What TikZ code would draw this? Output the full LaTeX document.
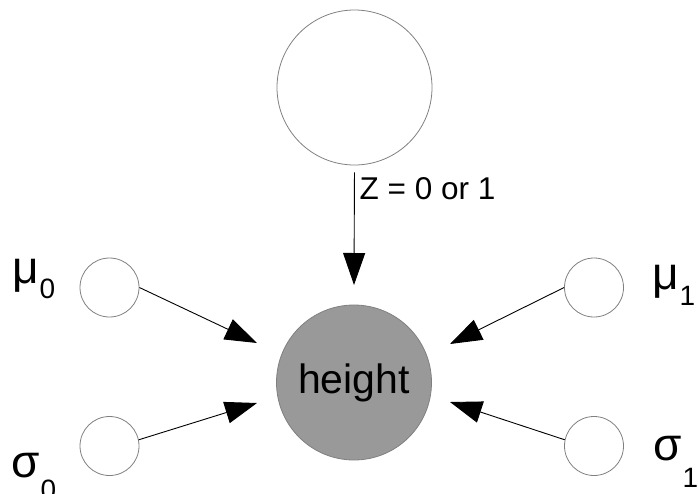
\documentclass[tikz,border=0pt]{standalone}
\usepackage{fontspec}
\setmainfont{Liberation Sans}
\usetikzlibrary{arrows.meta,calc}
\definecolor{rim}{RGB}{128,128,128}
\definecolor{obs}{RGB}{153,153,153}
\begin{document}
\begin{tikzpicture}[x=1pt,y=-1pt,
  latent/.style={circle, draw=rim, line width=0.8pt, fill=white, inner sep=0pt, minimum size=#1},
  param/.style={latent=59pt},
  edge/.style={draw=black, line width=0.9pt, -{Triangle[length=32pt,width=22pt]}},
  sym/.style={anchor=base west, inner sep=0pt, font=\fontsize{46}{46}\selectfont},
]
\useasboundingbox (0,0) rectangle (698,493);

% nodes of the model
\node[latent=155pt] (z) at (354.5,87.5) {};
\node[latent=155pt, fill=obs, font=\fontsize{41}{41}\selectfont] (h) at (354,382.5) {height};
\node[param] (m0) at (109.5,287.5) {};
\node[param] (s0) at (109.5,446) {};
\node[param] (m1) at (594,287.5) {};
\node[param] (s1) at (594,446) {};

% parameter names
\newcommand{\subtext}[2]{\kern1pt\raisebox{#1}{\fontsize{28}{28}\selectfont #2}}
\node[sym] (lm0) at (12,283) {μ\subtext{-15pt}{0}};
\node[sym] (ls0) at (11,477) {σ\subtext{-22pt}{0}};
\node[sym] (lm1) at (652,289) {μ\subtext{-16pt}{1}};
\node[sym] (ls1) at (653,460) {σ\subtext{-27pt}{1}};

% arrow ends near the observed node
\coordinate (hz)  at ($(h.center)+(0,-97.5)$);
\coordinate (hm0) at ($(h.center)+(-97,-39.5)$);
\coordinate (hs0) at ($(h.center)+(-97,20.5)$);
\coordinate (hm1) at ($(h.center)+(96,-38.5)$);
\coordinate (hs1) at ($(h.center)+(96,19.5)$);

% connectors
\draw[edge, shorten <=7pt] (z.south) -- (hz);
\node[anchor=base west, inner sep=0pt, font=\fontsize{31.5}{31.5}\selectfont] (zl) at ($(z.south)+(5,34.3)$) {Z = 0 or 1};
\draw[edge] (m0.east) -- (hm0);
\draw[edge] (s0.12) -- (hs0);
\draw[edge] (m1.west) -- (hm1);
\draw[edge] (s1.168) -- (hs1);
\end{tikzpicture}
\end{document}
